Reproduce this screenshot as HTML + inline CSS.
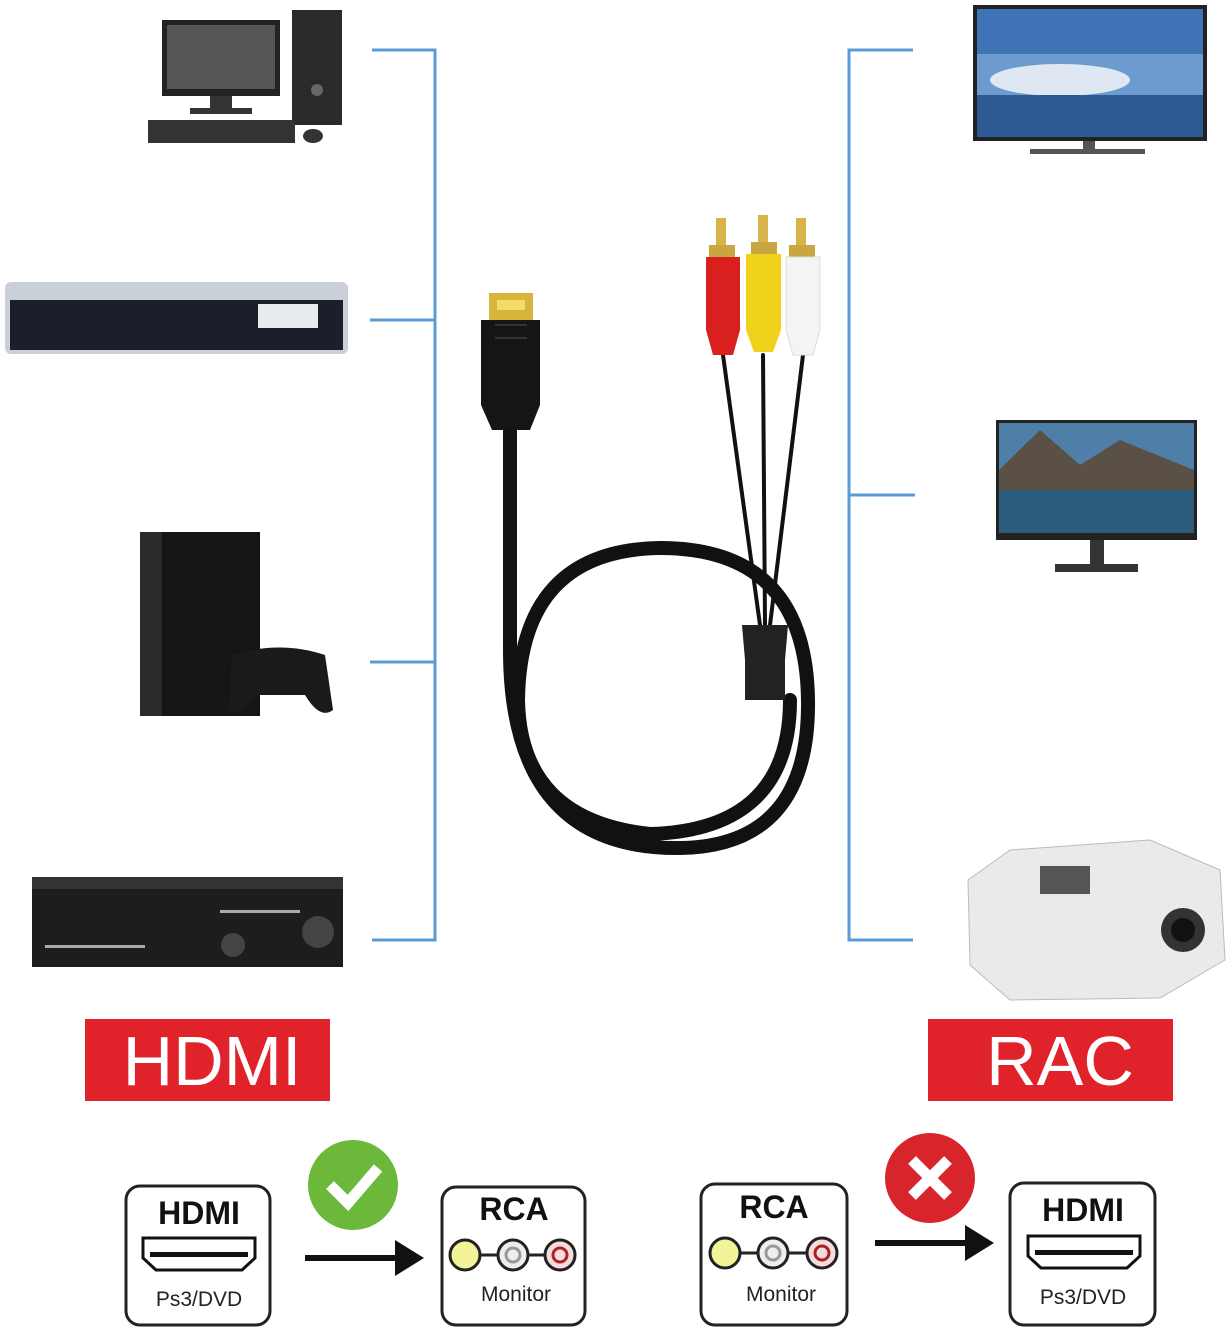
<!DOCTYPE html>
<html><head><meta charset="utf-8"><style>
html,body{margin:0;padding:0;background:#fff}
svg{display:block}
text{font-family:"Liberation Sans",Arial,sans-serif}
</style></head><body>
<svg width="1228" height="1331" viewBox="0 0 1228 1331" xmlns="http://www.w3.org/2000/svg">
<g stroke="#5b9bd5" stroke-width="3" fill="none">
<path d="M372 50H435V940H372M370 320H435M370 662H435"/>
<path d="M913 50H849V940H913M849 495H915"/>
</g>
<rect x="162" y="20" width="118" height="76" fill="#222"/>
<rect x="167" y="25" width="108" height="64" fill="#555"/>
<rect x="210" y="96" width="22" height="14" fill="#333"/><rect x="190" y="108" width="62" height="6" fill="#333"/>
<rect x="292" y="10" width="50" height="115" fill="#2a2a2a"/><circle cx="317" cy="90" r="6" fill="#666"/>
<rect x="148" y="120" width="147" height="23" fill="#333"/>
<ellipse cx="313" cy="136" rx="10" ry="7" fill="#333"/>
<rect x="5" y="282" width="343" height="72" rx="6" fill="#c9d0d8"/>
<rect x="10" y="300" width="333" height="50" fill="#1b1f2a"/>
<rect x="258" y="304" width="60" height="24" fill="#e8ecef"/>
<rect x="140" y="532" width="120" height="184" fill="#151515"/>
<rect x="140" y="532" width="22" height="184" fill="#2a2a2a"/>
<path d="M232 655 Q280 640 325 655 L333 710 Q320 720 305 695 H255 Q240 720 228 710Z" fill="#1a1a1a"/>
<rect x="32" y="877" width="311" height="90" fill="#1d1d1d"/>
<rect x="32" y="877" width="311" height="12" fill="#333"/>
<circle cx="318" cy="932" r="16" fill="#444"/><circle cx="233" cy="945" r="12" fill="#444"/>
<g fill="#aaa"><rect x="45" y="945" width="100" height="3"/><rect x="220" y="910" width="80" height="3"/></g>
<rect x="973" y="5" width="234" height="136" fill="#222"/>
<rect x="977" y="9" width="226" height="128" fill="#6c9bd0"/>
<rect x="977" y="9" width="226" height="45" fill="#3e73b5"/>
<ellipse cx="1060" cy="80" rx="70" ry="16" fill="#dfe8f2"/>
<rect x="977" y="95" width="226" height="42" fill="#2d5a94"/>
<rect x="1083" y="141" width="12" height="8" fill="#555"/><rect x="1030" y="149" width="115" height="5" fill="#555"/>
<rect x="996" y="420" width="201" height="120" fill="#222"/>
<rect x="999" y="423" width="195" height="110" fill="#4f7fa8"/>
<path d="M999 470 L1040 430 L1080 465 L1120 440 L1194 470 V490 H999Z" fill="#5a5045"/>
<rect x="999" y="490" width="195" height="43" fill="#2d5b7e"/>
<rect x="1090" y="540" width="14" height="26" fill="#333"/><rect x="1055" y="564" width="83" height="8" fill="#333"/>
<path d="M968 880 L1010 850 L1150 840 L1220 870 L1225 960 L1160 998 L1010 1000 L970 965Z" fill="#e9eaea" stroke="#bbb"/>
<rect x="1040" y="866" width="50" height="28" fill="#555"/>
<circle cx="1183" cy="930" r="22" fill="#333"/><circle cx="1183" cy="930" r="12" fill="#111"/>
<rect x="85" y="1019" width="245" height="82" fill="#e0232b"/>
<text x="212" y="1085" font-size="70" fill="#fff" text-anchor="middle">HDMI</text>
<rect x="928" y="1019" width="245" height="82" fill="#e0232b"/>
<text x="1060" y="1085" font-size="70" fill="#fff" text-anchor="middle">RAC</text>
<g fill="none" stroke="#111" stroke-linecap="round">
<path d="M510 405 V650 Q510 850 680 848 Q810 846 808 700 Q806 548 660 548 Q520 550 518 700 Q520 820 650 834 Q790 830 790 700" stroke-width="14"/>
<path d="M723 355 L760 625 M763 355 L765 625 M803 355 L770 625" stroke-width="4"/>
</g>
<path d="M742 625 H788 L785 660 V700 H745 V660Z" fill="#222"/>
<rect x="489" y="293" width="44" height="30" fill="#d7b43a"/>
<rect x="497" y="300" width="28" height="10" fill="#f4dc6a"/>
<path d="M481 320 H540 V405 L530 430 H492 L481 405Z" fill="#151515"/>
<g stroke="#333" stroke-width="2"><line x1="495" y1="325" x2="527" y2="325"/><line x1="495" y1="338" x2="527" y2="338"/></g>
<rect x="716" y="218" width="10" height="30" fill="#d6b44a"/><rect x="709" y="245" width="26" height="12" fill="#c9a640"/>
<path d="M706 257 H740 V330 L733 355 H713 L706 330Z" fill="#d9201e"/>
<rect x="758" y="215" width="10" height="30" fill="#d6b44a"/><rect x="751" y="242" width="26" height="12" fill="#c9a640"/>
<path d="M746 254 H781 V330 L773 352 H754 L746 330Z" fill="#f1d21a"/>
<rect x="796" y="218" width="10" height="30" fill="#d6b44a"/><rect x="789" y="245" width="26" height="12" fill="#c9a640"/>
<path d="M786 257 H820 V330 L813 355 H793 L786 330Z" fill="#f4f4f4" stroke="#ddd"/>
<g fill="#fff" stroke="#222" stroke-width="3">
<rect x="126" y="1186" width="144" height="139" rx="14"/>
<rect x="442" y="1187" width="143" height="138" rx="14"/>
<rect x="701" y="1184" width="146" height="141" rx="14"/>
<rect x="1010" y="1183" width="145" height="142" rx="14"/>
</g>
<g font-weight="bold" font-size="32" text-anchor="middle" fill="#111">
<text x="199" y="1224">HDMI</text><text x="514" y="1220">RCA</text>
<text x="774" y="1218">RCA</text><text x="1083" y="1221">HDMI</text>
</g>
<g font-size="21" text-anchor="middle" fill="#222">
<text x="199" y="1306">Ps3/DVD</text><text x="516" y="1301">Monitor</text>
<text x="781" y="1301">Monitor</text><text x="1083" y="1304">Ps3/DVD</text>
</g>
<g fill="none" stroke="#111" stroke-width="3">
<path d="M143 1238 H255 V1258 L242 1270 H156 L143 1258Z"/>
<path d="M1028 1236 H1140 V1256 L1127 1268 H1041 L1028 1256Z"/>
</g>
<rect x="150" y="1252" width="98" height="5" fill="#111"/><rect x="1035" y="1250" width="98" height="5" fill="#111"/>
<g stroke="#222" stroke-width="3">
<line x1="465" y1="1255" x2="560" y2="1255"/><line x1="725" y1="1253" x2="822" y2="1253"/>
<circle cx="465" cy="1255" r="15" fill="#f3f39a"/><circle cx="513" cy="1255" r="15" fill="#eee"/><circle cx="560" cy="1255" r="15" fill="#f6dcdc"/>
<circle cx="725" cy="1253" r="15" fill="#f3f39a"/><circle cx="773" cy="1253" r="15" fill="#eee"/><circle cx="822" cy="1253" r="15" fill="#f6dcdc"/>
</g>
<g fill="none" stroke-width="3"><circle cx="513" cy="1255" r="7" stroke="#999"/><circle cx="560" cy="1255" r="7" stroke="#a22"/><circle cx="773" cy="1253" r="7" stroke="#999"/><circle cx="822" cy="1253" r="7" stroke="#a22"/></g>
<rect x="305" y="1255" width="95" height="6" fill="#111"/><path d="M395 1240 L424 1258 L395 1276Z" fill="#111"/>
<rect x="875" y="1240" width="95" height="6" fill="#111"/><path d="M965 1225 L994 1243 L965 1261Z" fill="#111"/>
<circle cx="353" cy="1185" r="45" fill="#6cb83a"/>
<path d="M330 1185 L348 1203 L378 1168" fill="none" stroke="#fff" stroke-width="11"/>
<circle cx="930" cy="1178" r="45" fill="#d8252b"/>
<path d="M912 1160 L948 1196 M948 1160 L912 1196" stroke="#fff" stroke-width="11"/>
</svg>
</body></html>
